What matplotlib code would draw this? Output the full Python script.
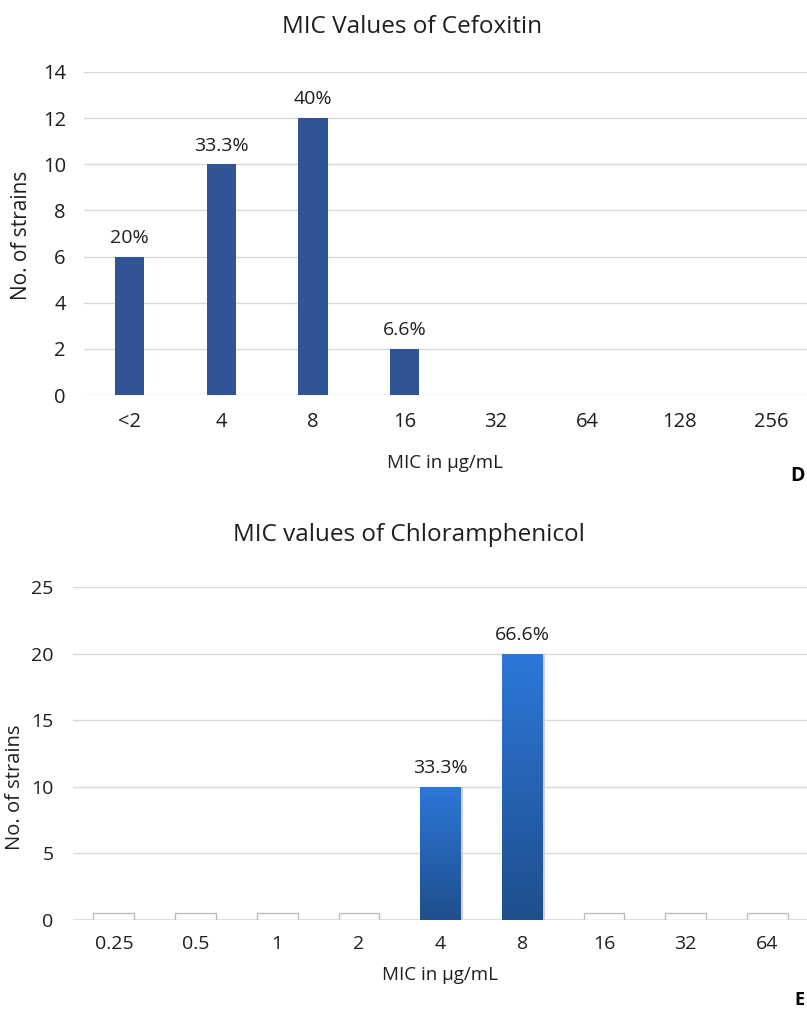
import numpy as np
import matplotlib.pyplot as plt
from matplotlib.colors import LinearSegmentedColormap

plt.rcParams['font.family'] = ['Open Sans', 'DejaVu Sans']

# Cefoxitin
cef_mic = ['<2', '4', '8', '16', '32', '64', '128', '256']
cef_strains = [6, 10, 12, 2, 0, 0, 0, 0]
cef_pct = ['20%', '33.3%', '40%', '6.6%', '', '', '', '']

# Chloramphenicol
chl_mic = ['0.25', '0.5', '1', '2', '4', '8', '16', '32', '64']
chl_strains = [0, 0, 0, 0, 10, 20, 0, 0, 0]
chl_pct = ['', '', '', '', '33.3%', '66.6%', '', '', '']

grid_col = '#d9d9d9'
txt_col = '#1e1e1e'

fig = plt.figure(figsize=(8.07, 10.13), dpi=100)


def style_axes(ax, ymax, ystep, ypad, xpad, fs):
    ax.set_ylim(0, ymax)
    ax.set_yticks(np.arange(0, ymax + 0.1, ystep))
    ax.grid(axis='y', color=grid_col, lw=1)
    ax.set_axisbelow(True)
    for s in ax.spines.values():
        s.set_visible(False)
    ax.tick_params(axis='both', length=0, labelsize=fs, colors=txt_col)
    ax.tick_params(axis='y', pad=ypad)
    ax.tick_params(axis='x', pad=xpad)


# --- top panel ---
ax1 = fig.add_axes([0.104, 0.610, 0.908, 0.319])
x1 = np.arange(len(cef_mic))
bars1 = ax1.bar(x1, cef_strains, width=0.32, color='#2f5597')
ax1.set_xlim(-0.5, len(cef_mic) - 0.5)
ax1.set_xticks(x1, cef_mic)
style_axes(ax1, 14, 2, 13, 12, 14.5)
for b, lab in zip(bars1, cef_pct):
    if lab:
        ax1.annotate(lab, (b.get_x() + b.get_width() / 2, b.get_height()),
                     xytext=(0, 7), textcoords='offset points',
                     ha='center', va='bottom', fontsize=14, color=txt_col)

fig.text(0.51, 0.973, 'MIC Values of Cefoxitin', ha='center', va='center',
         fontsize=17.5, color=txt_col)
fig.text(0.551, 0.543, 'MIC in µg/mL', ha='center', va='center',
         fontsize=13.5, color=txt_col)
fig.text(0.027, 0.768, 'No. of strains', ha='center', va='center',
         rotation=90, fontsize=15, color=txt_col)
fig.text(0.988, 0.530, 'D', ha='center', va='center', fontsize=14,
         fontweight='bold', color='black')

# --- bottom panel ---
ax2 = fig.add_axes([0.0905, 0.0918, 0.911, 0.3287])
x2 = np.arange(len(chl_mic))
style_axes(ax2, 25, 5, 14, 11, 14)
ax2.set_xticks(x2, chl_mic)
ax2.axhline(0, color=grid_col, lw=1.2, zorder=1)

grad = LinearSegmentedColormap.from_list('g', ['#1f4e8c', '#2c78d9'])
bars2 = ax2.bar(x2, chl_strains, width=0.5, color='none')
cap = 0.5  # height of the flat cap drawn for empty categories
for b, v, lab in zip(bars2, chl_strains, chl_pct):
    bx, bw = b.get_x(), b.get_width()
    if v == 0:
        ax2.bar(b.get_x() + bw / 2, cap, width=bw, color='white',
                edgecolor='#bdbdbd', lw=1, zorder=3)
        continue
    img = ax2.imshow(np.linspace(0, 1, 256).reshape(-1, 1), cmap=grad,
                     extent=[bx, bx + bw, 0, v], origin='lower',
                     aspect='auto', zorder=3)
    img.set_clip_path(b)
    ax2.plot([bx + bw + 0.01] * 2, [0.1, v - 0.1], color='#d0d0d0', lw=1.5,
             zorder=2)
    if lab:
        ax2.annotate(lab, (bx + bw / 2, v), xytext=(0, 7),
                     textcoords='offset points', ha='center', va='bottom',
                     fontsize=14, color=txt_col)
ax2.set_xlim(-0.5, len(chl_mic) - 0.5)
ax2.set_ylim(0, 25)

fig.text(0.507, 0.472, 'MIC values of Chloramphenicol', ha='center',
         va='center', fontsize=17.5, color=txt_col)
fig.text(0.545, 0.0375, 'MIC in µg/mL', ha='center', va='center',
         fontsize=13.5, color=txt_col)
fig.text(0.0186, 0.223, 'No. of strains', ha='center', va='center',
         rotation=90, fontsize=14.5, color=txt_col)
fig.text(0.991, 0.013, 'E', ha='center', va='center', fontsize=13,
         fontweight='bold', color='black')

fig.savefig('out.png', dpi=100)
